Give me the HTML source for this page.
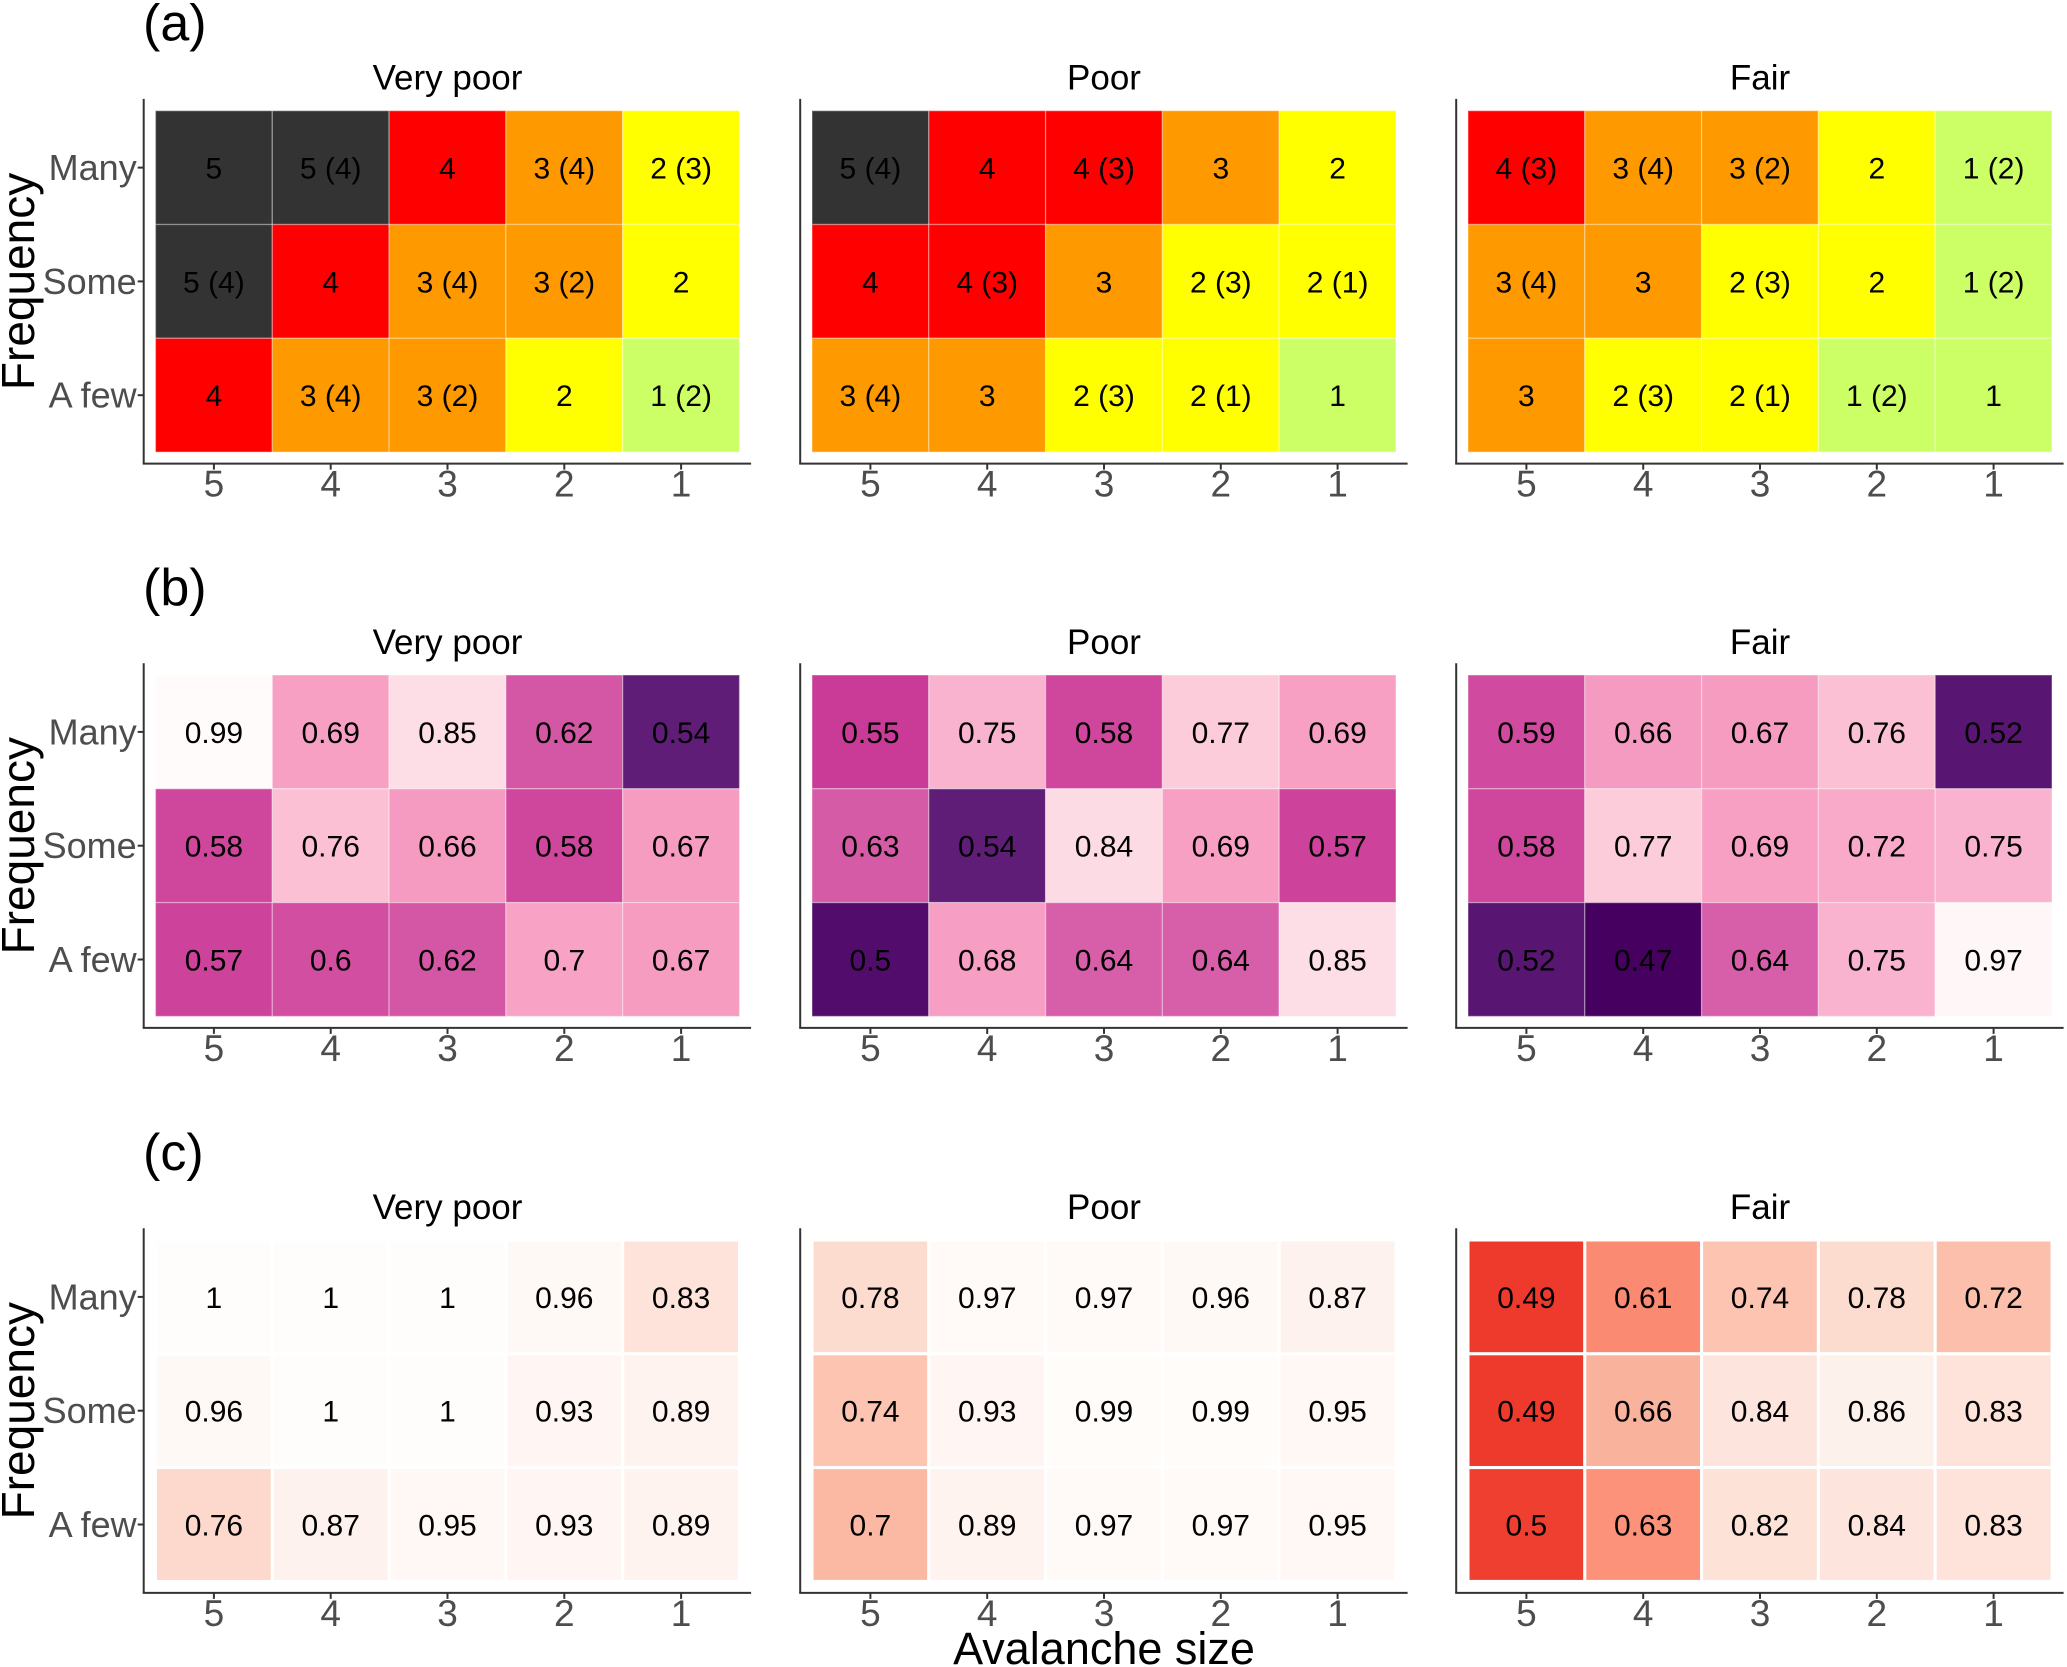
<!DOCTYPE html>
<html><head><meta charset="utf-8"><style>
html,body{margin:0;padding:0;background:#fff;}
svg{display:block;font-family:"Liberation Sans",Arial,sans-serif;}
</style></head><body>
<svg id="chart" width="2067" height="1667" viewBox="0 0 2067 1667" xmlns="http://www.w3.org/2000/svg"></svg>
<script>
const facets = ["Very poor", "Poor", "Fair"];
const sizes = ["5", "4", "3", "2", "1"];
const freqs = ["Many", "Some", "A few"];
const panelLetters = ["(a)", "(b)", "(c)"];
// (a) risk labels
const riskVeryPoor = [["5","5 (4)","4","3 (4)","2 (3)"],["5 (4)","4","3 (4)","3 (2)","2"],["4","3 (4)","3 (2)","2","1 (2)"]];
const riskPoor = [["5 (4)","4","4 (3)","3","2"],["4","4 (3)","3","2 (3)","2 (1)"],["3 (4)","3","2 (3)","2 (1)","1"]];
const riskFair = [["4 (3)","3 (4)","3 (2)","2","1 (2)"],["3 (4)","3","2 (3)","2","1 (2)"],["3","2 (3)","2 (1)","1 (2)","1"]];
// (b) values
const bVeryPoor = [[0.99,0.69,0.85,0.62,0.54],[0.58,0.76,0.66,0.58,0.67],[0.57,0.6,0.62,0.7,0.67]];
const bPoor = [[0.55,0.75,0.58,0.77,0.69],[0.63,0.54,0.84,0.69,0.57],[0.5,0.68,0.64,0.64,0.85]];
const bFair = [[0.59,0.66,0.67,0.76,0.52],[0.58,0.77,0.69,0.72,0.75],[0.52,0.47,0.64,0.75,0.97]];
// (c) values
const cVeryPoor = [[1,1,1,0.96,0.83],[0.96,1,1,0.93,0.89],[0.76,0.87,0.95,0.93,0.89]];
const cPoor = [[0.78,0.97,0.97,0.96,0.87],[0.74,0.93,0.99,0.99,0.95],[0.7,0.89,0.97,0.97,0.95]];
const cFair = [[0.49,0.61,0.74,0.78,0.72],[0.49,0.66,0.84,0.86,0.83],[0.5,0.63,0.82,0.84,0.83]];

const riskColors = {"5":"#333333","4":"#ff0000","3":"#ff9900","2":"#ffff00","1":"#ccff66"};
const bStops = [[0.47,"#46005f"],[0.5,"#520d6c"],[0.54,"#5f1d78"],[0.545,"#c93896"],[0.58,"#cf469d"],[0.63,"#d55ba7"],[0.65,"#d860aa"],[0.66,"#f59ac0"],[0.69,"#f7a0c4"],[0.75,"#fab3ce"],[0.77,"#fcccda"],[0.85,"#fddde6"],[1.0,"#fffdfb"]];
const cStops = [[0.49,"#ee3a2c"],[0.5,"#ef3f30"],[0.61,"#fa8a72"],[0.63,"#fb9279"],[0.66,"#f9b29c"],[0.7,"#fbb9a4"],[0.74,"#fcc4b1"],[0.76,"#fcd9cc"],[0.8,"#fddfd3"],[0.84,"#fde4dc"],[0.86,"#fdf1ec"],[0.93,"#fff6f3"],[1.0,"#fffdfb"]];

function hex(h){return [1,3,5].map(i=>parseInt(h.substr(i,2),16));}
function scale(stops,v){
  if(v<=stops[0][0])return stops[0][1];
  for(let i=1;i<stops.length;i++){
    if(v<=stops[i][0]){
      const t=(v-stops[i-1][0])/(stops[i][0]-stops[i-1][0]);
      const a=hex(stops[i-1][1]),b=hex(stops[i][1]);
      return "rgb("+a.map((x,k)=>Math.round(x+(b[k]-x)*t)).join(",")+")";
    }
  }
  return stops[stops.length-1][1];
}

const svg=document.getElementById("chart");
const NS="http://www.w3.org/2000/svg";
function el(tag,attrs,text){
  const e=document.createElementNS(NS,tag);
  for(const k in attrs)e.setAttribute(k,attrs[k]);
  if(text!==undefined)e.textContent=text;
  svg.appendChild(e);return e;
}
const colLeft=[155.5,812,1468], rowTop=[110.7,675,1240];
const W=584, H=341.4, cw=W/5, ch=H/3;
function xPos(p,i){return colLeft[p]+i*cw;}
function yPos(r,j){return rowTop[r]+j*ch;}

const panels=[[riskVeryPoor,riskPoor,riskFair],[bVeryPoor,bPoor,bFair],[cVeryPoor,cPoor,cFair]];
for(let r=0;r<3;r++){
  const lab=el("text",{x:143,y:rowTop[r]-70,"font-size":52,fill:"#000"},panelLetters[r]);
  
  
  const yt=el("text",{x:0,y:0,"font-size":46,fill:"#000","text-anchor":"middle",transform:`translate(34,${rowTop[r]+H/2}) rotate(-90)`},"Frequency");
  
  
  for(let p=0;p<3;p++){
    const ax=colLeft[p]-11.8, axEnd=colLeft[p]+W+11.6, ay=rowTop[r]+H+11.5;
    const t=el("text",{x:colLeft[p]+W/2,y:rowTop[r]-21,"font-size":35,fill:"#000","text-anchor":"middle"},facets[p]);
    
    
    for(let j=0;j<3;j++){
      for(let i=0;i<5;i++){
        const v=panels[r][p][j][i];
        let fill;
        if(r===0)fill=riskColors[v.charAt(0)];
        else if(r===1)fill=scale(bStops,v);
        else fill=scale(cStops,v);
        const stroke=r===2?"#ffffff":"rgba(255,255,255,0.35)";
        const sw=r===2?3:1.3;
        const c=el("rect",{x:xPos(p,i),y:yPos(r,j),width:cw,height:ch,fill:fill,stroke:stroke,"stroke-width":sw});
        
        
        const tx=el("text",{x:xPos(p,i)+cw/2,y:yPos(r,j)+ch/2+11,"font-size":30,fill:"#000","text-anchor":"middle"},String(v));
        
        
      }
    }
    const al=el("line",{x1:ax,y1:rowTop[r]-11.8,x2:ax,y2:ay,stroke:"#333","stroke-width":2});
    
    
    const bl=el("line",{x1:ax-1,y1:ay,x2:axEnd,y2:ay,stroke:"#333","stroke-width":2});
    
    
    for(let i=0;i<5;i++){
      const cx=xPos(p,i)+cw/2;
      el("line",{x1:cx,y1:ay,x2:cx,y2:ay+6,stroke:"#333","stroke-width":2});
      const tl=el("text",{x:cx,y:ay+33,"font-size":37,fill:"#4d4d4d","text-anchor":"middle"},sizes[i]);
      
      
    }
    if(p===0){
      for(let j=0;j<3;j++){
        const cy=yPos(r,j)+ch/2;
        el("line",{x1:ax-6,y1:cy,x2:ax,y2:cy,stroke:"#333","stroke-width":2});
        const yl=el("text",{x:ax-7,y:cy+12.5,"font-size":36,fill:"#4d4d4d","text-anchor":"end"},freqs[j]);
        
        
      }
    }
  }
}
const xt=el("text",{x:1104,y:1664,"font-size":45,fill:"#000","text-anchor":"middle"},"Avalanche size");


</script>
</body></html>
